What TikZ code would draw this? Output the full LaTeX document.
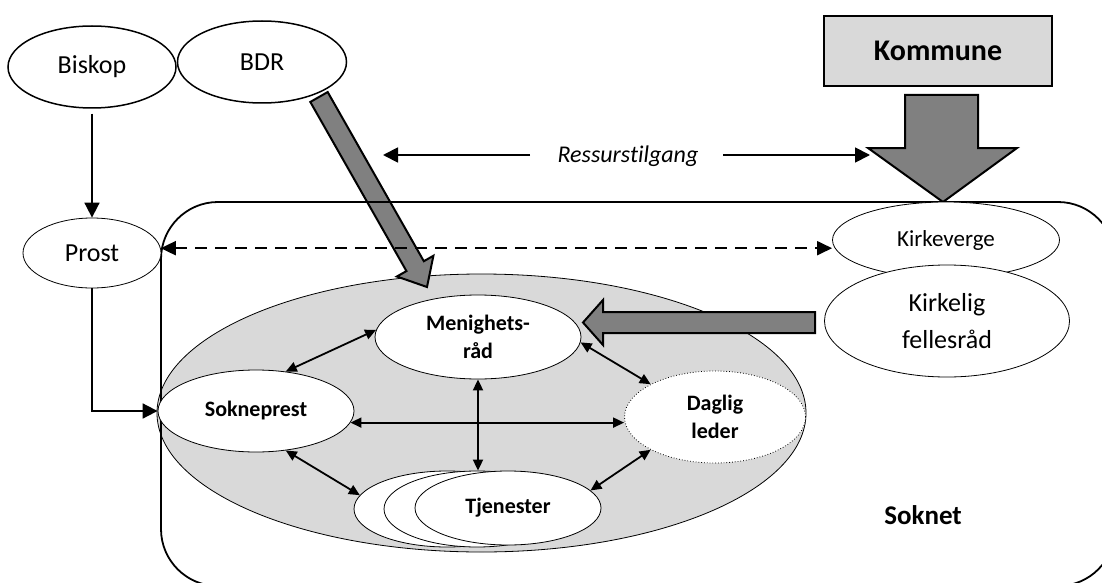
\documentclass[tikz,border=0pt]{standalone}
\usepackage{fontspec}
\setmainfont[Ligatures=NoCommon]{Carlito}
\usetikzlibrary{shapes.geometric,arrows.meta,calc}
\definecolor{lightgr}{HTML}{D9D9D9}
\definecolor{arrowgr}{HTML}{808080}
\begin{document}
\begin{tikzpicture}[x=1pt,y=-1pt,
  ell/.style={ellipse,draw,fill=white,inner sep=0pt,align=center,line width=0.8pt},
  bigtxt/.style={font=\fontsize{26}{31}\selectfont},
  inbold/.style={font=\fontsize{22}{28}\selectfont\bfseries},
  dbl/.style={{Triangle[length=11pt,width=10pt]}-{Triangle[length=11pt,width=10pt]},line width=1.8pt},
  single/.style={-{Triangle[length=15pt,width=15pt]},line width=1.8pt},
  fat/.style={draw=black,line width=2pt,fill=arrowgr,line join=miter},
]
\useasboundingbox (0,0) rectangle (1102,583);

% gray inner ellipse
\node[ellipse,draw,fill=lightgr,inner sep=0pt,minimum width=649pt,minimum height=278pt,line width=0.8pt] (grey) at (481.5,413) {};

% BDR fat arrow
\coordinate (bs) at (319,97);
\coordinate (be) at (427,287);
\coordinate (hb) at ($(be)!24pt!(bs)$);
\draw[fat] ($(bs)!10pt!90:(be)$) -- ($(hb)!10pt!-90:(bs)$) -- ($(hb)!21pt!-90:(bs)$) -- (be)
  -- ($(hb)!21pt!90:(bs)$) -- ($(hb)!10pt!90:(bs)$) -- ($(bs)!10pt!-90:(be)$) -- cycle;

% Soknet frame
\draw[line width=1.8pt,rounded corners=57pt] (161,202) rectangle (1115,586);

% top nodes
\node[ell,bigtxt,line width=1.5pt,minimum width=168pt,minimum height=82pt] (bis) at (92,67) {Biskop};
\node[ell,bigtxt,line width=1.5pt,minimum width=169pt,minimum height=82pt] (bdr) at (262,62) {BDR};
\node[ell,bigtxt,minimum width=138pt,minimum height=70pt] (pro) at (92,253) {Prost};

\node[draw,fill=lightgr,line width=1.5pt,minimum width=228pt,minimum height=70pt,inner sep=0pt,
  font=\fontsize{30}{36}\selectfont\bfseries] (kom) at (938,51) {Kommune};

% Kommune fat arrow
\draw[fat] (905,95) -- (978,95) -- (978,148) -- (1017,148) -- (943,202) -- (868,148) -- (905,148) -- cycle;

% right ellipses
\node[ell,font=\fontsize{23}{28}\selectfont,minimum width=227pt,minimum height=76pt] (kv) at (946,240) {Kirkeverge};
\node[ell,font=\fontsize{26}{37}\selectfont,minimum width=245pt,minimum height=112pt] (kf) at (947,321) {Kirkelig\\fellesråd};

% inner ellipses
\node[ell,inbold,minimum width=206pt,minimum height=84pt] (men) at (478,337) {Menighets-\\råd};
\node[ell,inbold,minimum width=196pt,minimum height=82pt] (sok) at (256,411) {Sokneprest};
\node[ell,inbold,dotted,minimum width=181pt,minimum height=92pt] (dag) at (715,417) {Daglig\\leder};
\node[ell,minimum width=186pt,minimum height=76pt] (tje3) at (447,509) {};
\node[ell,minimum width=186pt,minimum height=76pt] (tje2) at (477,509) {};
\node[ell,inbold,minimum width=186pt,minimum height=74pt] (tje1) at (508,508) {Tjenester};

% fellesråd -> menighetsråd fat arrow
\draw[fat] (815,312) -- (603,312) -- (603,300) -- (583,322.5) -- (603,345) -- (603,333) -- (815,333) -- cycle;

% texts
\node[font=\fontsize{27}{32}\selectfont\bfseries] (sokn) at (923,515) {Soknet};
\node[font=\fontsize{24}{29}\selectfont\itshape] (res) at (628,156) {Ressurstilgang};
\coordinate (rl1) at (530,155);
\coordinate (rl2) at (383,155);
\coordinate (rr1) at (723,155);
\coordinate (rr2) at (870,155);
\draw[single] (rl1) -- (rl2);
\draw[single] (rr1) -- (rr2);

% connectors
\draw[single,shorten <=5pt] (bis.south) -- (pro.north);
\draw[single] (pro.south) |- (sok.west);
\draw[{Triangle[length=15pt,width=14pt]}-{Triangle[length=15pt,width=14pt]},line width=1.8pt,dash pattern=on 12pt off 8pt]
  (pro.4) -- (pro.4 -| kv.west);

\draw[dbl] (sok.53) -- (men.176);
\draw[dbl] (sok.-53) -- (tje3.171);
\draw[dbl] (men.south) -- (men.south |- tje1.north);
\draw[dbl] (sok.-7) -- (sok.-7 -| dag.west);
\draw[dbl] (men.-3) -- (dag.153);
\draw[dbl] (dag.-153) -- (tje1.12);
\end{tikzpicture}
\end{document}
